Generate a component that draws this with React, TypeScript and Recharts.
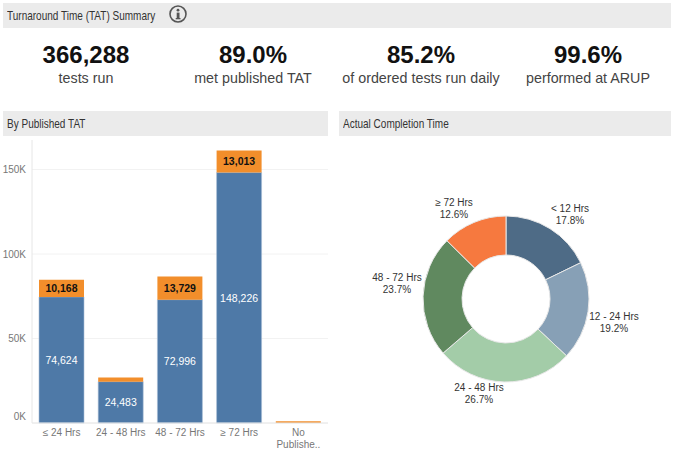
import React from 'react';
import { BarChart, Bar, XAxis, YAxis, CartesianGrid, LabelList, PieChart, Pie, Cell } from 'recharts';

const tatCategories = ['≤ 24 Hrs', '24 - 48 Hrs', '48 - 72 Hrs', '≥ 72 Hrs', 'No Publishe..'];
const metValues = [74624, 24483, 72996, 148226, 0];
const missedValues = [10168, 2500, 13729, 13013, 1000];
const yTicks = [0, 50000, 100000, 150000];

const completionLabels = ['< 12 Hrs', '12 - 24 Hrs', '24 - 48 Hrs', '48 - 72 Hrs', '≥ 72 Hrs'];
const completionValues = [17.8, 19.2, 26.7, 23.7, 12.6];
const completionColors = ['#4e6b86', '#87a0b6', '#a3cca8', '#60895f', '#f6793f'];
// label centres relative to the donut centre
const labelOffsets = [
  [64, -87],
  [108, 21],
  [-27, 92],
  [-109, -18],
  [-52, -93],
];

const kpiValues = ['366,288', '89.0%', '85.2%', '99.6%'];
const kpiCaptions = ['tests run', 'met published TAT', 'of ordered tests run daily', 'performed at ARUP'];
const kpiCenters = [86, 253, 421, 588];

const FONT = '"Liberation Sans", Arial, sans-serif';

const barData = tatCategories.map((name, i) => ({ name, met: metValues[i], missed: missedValues[i] }));
const pieData = completionLabels.map((name, i) => ({ name, value: completionValues[i] }));

const showBig = (v: any) => (v >= 5000 ? Number(v).toLocaleString('en-US') : '');

const Header = ({ x, y, w, text }: { x: number; y: number; w: number; text: string }) => (
  <div
    style={{
      position: 'absolute', left: x, top: y, width: w, height: 25, background: '#ebebeb',
      fontFamily: FONT, fontSize: 13, lineHeight: '25px', color: '#333', paddingLeft: 4, boxSizing: 'border-box',
    }}
  >
    <span style={{ display: 'inline-block', whiteSpace: 'nowrap', transform: 'scaleX(0.77)', transformOrigin: 'left center' }}>{text}</span>
  </div>
);

const CategoryTick = ({ x, y, payload }: any) => {
  const words = payload.value === 'No Publishe..' ? ['No', 'Publishe..'] : [payload.value];
  return (
    <text x={x} y={y + 5} textAnchor="middle" fontSize={10} fontFamily={FONT} fill="#777">
      {words.map((w: string, i: number) => (
        <tspan key={w} x={x} dy={i === 0 ? 0 : 12}>{w}</tspan>
      ))}
    </text>
  );
};

const ValueTick = ({ x, y, payload }: any) => (
  <text x={x + 2} y={payload.value === 0 ? y - 3.5 : y + 3.5} textAnchor="end" fontSize={10} fontFamily={FONT} fill="#777">
    {`${payload.value / 1000}K`}
  </text>
);

const renderPieLabel = ({ cx, cy, index }: any) => {
  const [dx, dy] = labelOffsets[index];
  return (
    <text x={cx + dx} y={cy + dy} textAnchor="middle" fontSize={10} fontFamily={FONT} fill="#333">
      <tspan x={cx + dx} dy={0}>{completionLabels[index]}</tspan>
      <tspan x={cx + dx} dy={12}>{completionValues[index].toFixed(1)}%</tspan>
    </text>
  );
};

export default function App() {
  return (
    <div style={{ position: 'relative', width: 675, height: 468, background: '#fff', overflow: 'hidden' }}>
      <style>{'body{margin:0}'}</style>
      <Header x={3} y={3} w={668} text="Turnaround Time (TAT) Summary" />
      <svg style={{ position: 'absolute', left: 168, top: 4 }} width={20} height={20}>
        <circle cx={10} cy={10} r={8} fill="none" stroke="#555" strokeWidth={1.6} />
        <rect x={8.7} y={8.6} width={2.8} height={6} fill="#555" />
        <rect x={7.7} y={14} width={4.8} height={1.3} fill="#555" />
        <circle cx={10} cy={6.2} r={1.4} fill="#555" />
      </svg>
      {kpiValues.map((v, i) => (
        <div key={v} style={{ position: 'absolute', left: kpiCenters[i] - 85, width: 170, top: 41, textAlign: 'center', fontFamily: FONT }}>
          <div style={{ fontSize: 24, fontWeight: 700, lineHeight: '28px', color: '#111' }}>{v}</div>
          <div style={{ fontSize: 14.3, lineHeight: '18px', color: '#444' }}>{kpiCaptions[i]}</div>
        </div>
      ))}
      <Header x={3} y={111} w={325} text="By Published TAT" />
      <Header x={339} y={111} w={332} text="Actual Completion Time" />

      <div style={{ position: 'absolute', left: 0, top: 136 }}>
        <BarChart width={330} height={325} data={barData} margin={{ top: 4, right: 2, left: 0, bottom: 0 }} barCategoryGap={0}>
          <CartesianGrid vertical={false} stroke="#f2f2f2" syncWithTicks />
          <XAxis dataKey="name" height={38} interval={0} tick={<CategoryTick />} tickLine={false} axisLine={{ stroke: '#e6e6e6' }} />
          <YAxis
            width={32}
            domain={[0, 167500]}
            ticks={yTicks}
            tick={<ValueTick />}
            tickLine={false}
            axisLine={{ stroke: '#e6e6e6' }}
          />
          <Bar dataKey="met" stackId="a" fill="#4e79a7" stroke="#a9bed6" strokeWidth={0.6} barSize={45} isAnimationActive={false}>
            <LabelList dataKey="met" position="center" formatter={showBig} fill="#fff" fontSize={10.5} fontFamily={FONT} />
          </Bar>
          <Bar dataKey="missed" stackId="a" fill="#f28e2b" barSize={45} isAnimationActive={false}>
            <LabelList dataKey="missed" position="center" formatter={showBig} fill="#111" fontSize={10.5} fontWeight={700} fontFamily={FONT} />
          </Bar>
        </BarChart>
      </div>

      <div style={{ position: 'absolute', left: 339, top: 136 }}>
        <PieChart width={332} height={325} margin={{ top: 0, right: 0, bottom: 0, left: 0 }}>
          <Pie
            data={pieData}
            dataKey="value"
            cx={167}
            cy={163}
            innerRadius={44}
            outerRadius={83}
            startAngle={90}
            endAngle={-270}
            stroke="#e8e8e8"
            strokeWidth={1}
            label={renderPieLabel}
            labelLine={false}
            isAnimationActive={false}
          >
            {completionColors.map((c) => (
              <Cell key={c} fill={c} />
            ))}
          </Pie>
        </PieChart>
      </div>
    </div>
  );
}
